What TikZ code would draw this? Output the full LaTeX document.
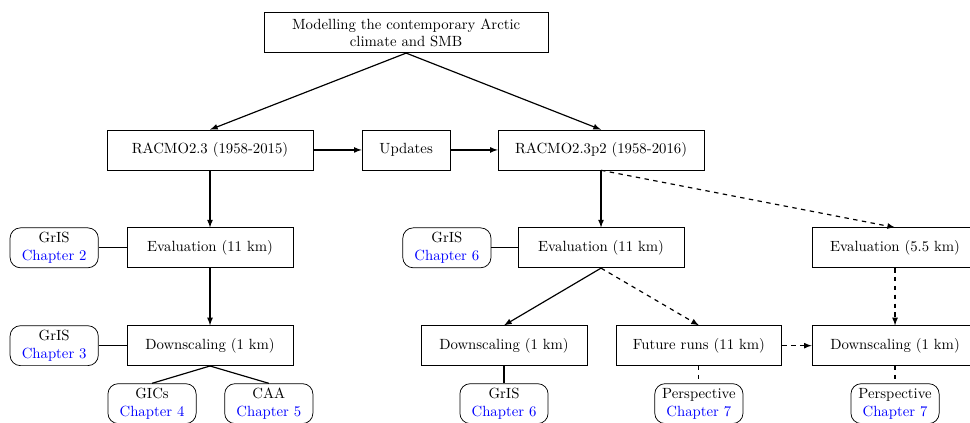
\documentclass[tikz,border=0pt]{standalone}
\usepackage{xcolor}
\usepackage{tikz}
\usetikzlibrary{positioning}
\usetikzlibrary{calc}

\begin{document}
\begin{tikzpicture}[-> , >= latex, line width =0.8 pt,
        box/.style={rectangle, draw, line width=0.5pt, minimum width=3.95cm,
            minimum height=0.95cm, align=center},
        chap/.style={rectangle, draw, line width=0.5pt, rounded corners=7pt,
            minimum width=2.1cm, minimum height=0.95cm, align=center, inner sep=1pt}]
            \useasboundingbox (0,0) rectangle (23.095,-10.048);
            \node [box, minimum width=4.9cm] (old) at (5.0,-3.57) {RACMO2.3 (1958-2015)};
            \node [box, minimum width=2.1cm, right of=old, node distance=4.67cm] (upd) {Updates};
            \node [box, minimum width=4.9cm, right of=upd, node distance=4.64cm] (new) {RACMO2.3p2 (1958-2016)};
            \node [box, minimum width=6.76cm, inner sep=2pt, above of=upd, node distance=2.79cm] (top)
                {Modelling the contemporary Arctic\\ climate and SMB};

            % left branch
            \node [box, below of=old, node distance=2.33cm] (evalA) {Evaluation (11 km)};
            \node [box, below of=evalA, node distance=2.33cm] (downA) {Downscaling (1 km)};
            \node [chap, left of=evalA, node distance=3.71cm] (grisA) {GrIS\\ \textcolor{blue}{Chapter 2}};
            \node [chap, left of=downA, node distance=3.71cm] (grisB) {GrIS\\ \textcolor{blue}{Chapter 3}};
            \node [chap] (gics) at ($(downA)+(-1.38,-1.38)$) {GICs\\ \textcolor{blue}{Chapter 4}};
            \node [chap] (caa) at ($(downA)+(1.40,-1.38)$) {CAA\\ \textcolor{blue}{Chapter 5}};

            % right branch
            \node [box, below of=new, node distance=2.33cm] (evalB) {Evaluation (11 km)};
            \node [chap, left of=evalB, node distance=3.67cm] (grisC) {GrIS\\ \textcolor{blue}{Chapter 6}};
            \node [box] (downB) at ($(evalB)+(-2.31,-2.33)$) {Downscaling (1 km)};
            \node [box] (future) at ($(evalB)+(2.33,-2.33)$) {Future runs (11 km)};
            \node [chap, below of=downB, node distance=1.38cm] (grisD) {GrIS\\ \textcolor{blue}{Chapter 6}};
            \node [chap, below of=future, node distance=1.38cm] (perspA) {Perspective\\ \textcolor{blue}{Chapter 7}};
            \node [box, right of=future, node distance=4.67cm] (downC) {Downscaling (1 km)};
            \node [box, above of=downC, node distance=2.33cm] (evalC) {Evaluation (5.5 km)};
            \node [chap, below of=downC, node distance=1.38cm] (perspB) {Perspective\\ \textcolor{blue}{Chapter 7}};

            \path (top.south) edge (old.north);
            \path (top.south) edge (new.north);
            \path (old) edge (upd);
            \path (upd) edge (new);

            \path (old) edge (evalA);
            \path (evalA) edge (downA);
            \path (grisA) edge[-] (evalA);
            \path (grisB) edge[-] (downA);
            \path (downA.south) edge[-] (gics.north);
            \path (downA.south) edge[-] (caa.north);

            \path (new) edge (evalB);
            \path (new.south) edge[dashed] (evalC.north);
            \path (grisC) edge[-] (evalB);
            \path (evalB.south) edge (downB.north);
            \path (evalB.south) edge[dashed] (future.north);
            \path (downB) edge[-] (grisD);
            \path (future) edge[-, dashed] (perspA);
            \path (future) edge[dashed] (downC);
            \path (evalC) edge[dashed] (downC);
            \path (downC) edge[-, dashed] (perspB);
        \end{tikzpicture}
\end{document}
